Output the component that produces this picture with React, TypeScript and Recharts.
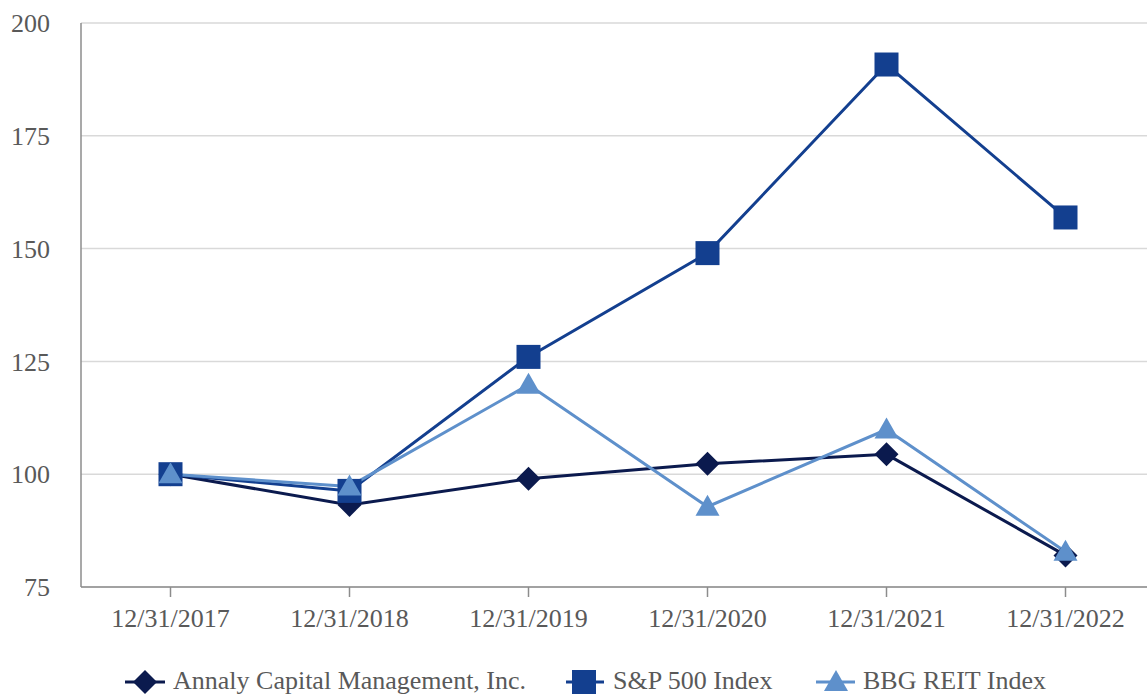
import { LineChart, Line, XAxis, YAxis, CartesianGrid } from "recharts";

const years = ["12/31/2017", "12/31/2018", "12/31/2019", "12/31/2020", "12/31/2021", "12/31/2022"];
const annaly = [100, 93.2, 99, 102.3, 104.4, 82];
const sp500 = [100, 96.3, 126, 149, 190.8, 156.9];
const reit = [100, 97.3, 119.8, 92.8, 109.9, 82.8];
const yTicks = [75, 100, 125, 150, 175, 200];

const data = years.map((d, i) => ({
  date: d,
  annaly: annaly[i],
  sp500: sp500[i],
  reit: reit[i],
}));

const NAVY = "#0b1a4e";
const BLUE = "#133f8f";
const LIGHT = "#5e90cb";
const TEXT = "#595959";
const FONT = "Liberation Serif";

const Diamond = (props: any) => {
  const { cx, cy, fill } = props;
  if (cx == null || cy == null) return null;
  const r = 12;
  return (
    <path
      d={`M${cx},${cy - r} L${cx + r},${cy} L${cx},${cy + r} L${cx - r},${cy} Z`}
      fill={fill}
    />
  );
};

const Square = (props: any) => {
  const { cx, cy, fill } = props;
  if (cx == null || cy == null) return null;
  const s = 12;
  return <rect x={cx - s} y={cy - s} width={s * 2} height={s * 2} fill={fill} />;
};

const Triangle = (props: any) => {
  const { cx, cy, fill } = props;
  if (cx == null || cy == null) return null;
  return (
    <path
      d={`M${cx},${cy - 12} L${cx + 12},${cy + 9} L${cx - 12},${cy + 9} Z`}
      fill={fill}
    />
  );
};

const App = () => (
  <div
    style={{
      position: "fixed",
      left: 0,
      top: 0,
      width: 1147,
      height: 696,
      overflow: "hidden",
      background: "#fff",
      fontFamily: FONT,
    }}
  >
    <LineChart
      width={1160}
      height={640}
      data={data}
      margin={{ top: 23, right: 5, left: 0, bottom: 0 }}
    >
      <CartesianGrid vertical={false} stroke="#d9d9d9" strokeWidth={1.5} />
      <XAxis
        dataKey="date"
        height={53}
        padding={{ left: 89.5, right: 89.5 }}
        tickSize={10}
        tickMargin={12}
        stroke="#8c8c8c"
        strokeWidth={1.5}
        tick={{ fill: TEXT, fontSize: 26, fontFamily: FONT }}
        interval={0}
      />
      <YAxis
        width={81}
        domain={[75, 200]}
        ticks={yTicks}
        tickSize={0}
        tickMargin={31}
        tickLine={false}
        stroke="#8c8c8c"
        strokeWidth={1.5}
        tick={{ fill: TEXT, fontSize: 26, fontFamily: FONT }}
      />
      <Line
        dataKey="annaly"
        stroke={NAVY}
        strokeWidth={3}
        fill={NAVY}
        dot={(p: any) => <Diamond key={`a${p.index}`} {...p} fill={NAVY} />}
        isAnimationActive={false}
      />
      <Line
        dataKey="sp500"
        stroke={BLUE}
        strokeWidth={3}
        dot={(p: any) => <Square key={`s${p.index}`} {...p} fill={BLUE} />}
        isAnimationActive={false}
      />
      <Line
        dataKey="reit"
        stroke={LIGHT}
        strokeWidth={3}
        dot={(p: any) => <Triangle key={`r${p.index}`} {...p} fill={LIGHT} />}
        isAnimationActive={false}
      />
    </LineChart>
    <svg
      width={1147}
      height={36}
      style={{ position: "absolute", left: 0, top: 660 }}
    >
      <g>
        <line x1={125} x2={165} y1={22} y2={22} stroke={NAVY} strokeWidth={3} />
        <Diamond cx={145} cy={22} fill={NAVY} />
        <text x={173} y={29} fill={TEXT} fontSize={26} fontFamily={FONT}>
          Annaly Capital Management, Inc.
        </text>
      </g>
      <g>
        <line x1={566} x2={604} y1={22} y2={22} stroke={BLUE} strokeWidth={3} />
        <Square cx={584} cy={22} fill={BLUE} />
        <text x={613} y={29} fill={TEXT} fontSize={26} fontFamily={FONT}>
          S&amp;P 500 Index
        </text>
      </g>
      <g>
        <line x1={816} x2={855} y1={22} y2={22} stroke={LIGHT} strokeWidth={3} />
        <Triangle cx={836} cy={22} fill={LIGHT} />
        <text x={863} y={29} fill={TEXT} fontSize={26} fontFamily={FONT}>
          BBG REIT Index
        </text>
      </g>
    </svg>
  </div>
);

export default App;
